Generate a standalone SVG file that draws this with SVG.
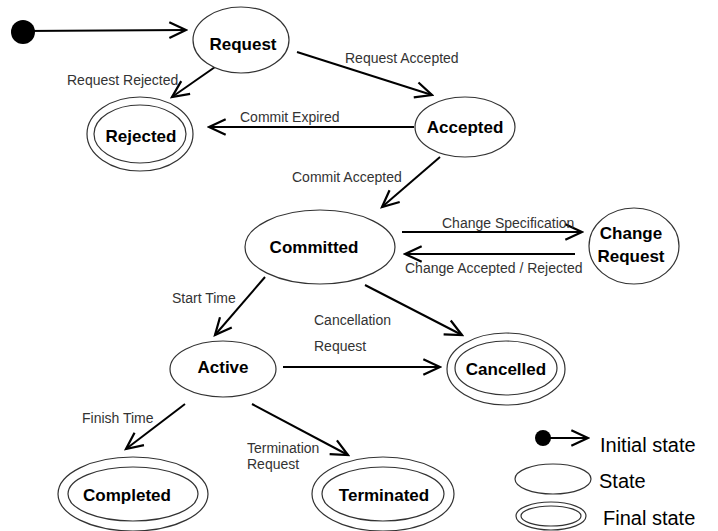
<svg xmlns="http://www.w3.org/2000/svg" width="718" height="531" viewBox="0 0 718 531">
  <style>
    .state { fill: #ffffff; stroke: #333333; stroke-width: 1.2; }
    .name { font-family: "Liberation Sans", Arial, sans-serif; font-size: 17px; font-weight: bold; fill: #000000; text-anchor: middle; }
    .label { font-family: "Liberation Sans", Arial, sans-serif; font-size: 14px; fill: #333333; }
    .legend { font-family: "Liberation Sans", Arial, sans-serif; font-size: 20px; fill: #000000; }
    .edge { stroke: #000000; stroke-width: 2; fill: none; marker-end: url(#open); }
  </style>
  <defs>
    <marker id="open" markerUnits="userSpaceOnUse" markerWidth="20" markerHeight="20" viewBox="-16 -9 18 18" refX="0" refY="0" orient="auto">
      <path d="M-15,-7 L0,0 L-15,7" fill="none" stroke="#000000" stroke-width="2"/>
    </marker>
  </defs>
  <rect width="718" height="531" fill="#ffffff"/>

  <g id="connectors">
    <line class="edge" x1="23" y1="31" x2="186" y2="30"/>
    <line class="edge" x1="215" y1="67" x2="172" y2="97"/>
    <line class="edge" x1="297" y1="52" x2="432" y2="95" stroke-width="2.5"/>
    <line class="edge" x1="414" y1="127" x2="209" y2="127"/>
    <line class="edge" x1="440" y1="157" x2="382" y2="207"/>
    <line class="edge" x1="402" y1="232" x2="582" y2="232"/>
    <line class="edge" x1="575" y1="254" x2="405" y2="254"/>
    <line class="edge" x1="265" y1="277" x2="215" y2="335"/>
    <line class="edge" x1="365" y1="285" x2="462" y2="335"/>
    <line class="edge" x1="283" y1="367" x2="440" y2="367"/>
    <line class="edge" x1="185" y1="404" x2="126" y2="449"/>
    <line class="edge" x1="252" y1="404" x2="348" y2="455"/>

    <text class="label" x="67" y="85">Request Rejected</text>
    <text class="label" x="345" y="63">Request Accepted</text>
    <text class="label" x="240" y="122">Commit Expired</text>
    <text class="label" x="292" y="182">Commit Accepted</text>
    <text class="label" x="442" y="228">Change Specification</text>
    <text class="label" x="405" y="273">Change Accepted / Rejected</text>
    <text class="label" x="172" y="303">Start Time</text>
    <text class="label" x="314" y="325">Cancellation</text>
    <text class="label" x="314" y="351">Request</text>
    <text class="label" x="82" y="423">Finish Time</text>
    <text class="label" x="247" y="453">Termination</text>
    <text class="label" x="247" y="469">Request</text>
  </g>

  <g id="initial">
    <circle cx="23" cy="32" r="12" fill="#000000"/>
  </g>

  <g id="request">
    <ellipse class="state" cx="241" cy="40" rx="48" ry="33"/>
    <text class="name" x="243" y="50">Request</text>
  </g>

  <g id="rejected">
    <ellipse class="state" cx="140" cy="134" rx="53" ry="37"/>
    <ellipse class="state" cx="140" cy="134" rx="46" ry="29"/>
    <text class="name" x="141" y="142">Rejected</text>
  </g>

  <g id="accepted">
    <ellipse class="state" cx="465" cy="127" rx="50" ry="30"/>
    <text class="name" x="465" y="133">Accepted</text>
  </g>

  <g id="committed">
    <ellipse class="state" cx="320" cy="247" rx="75" ry="37"/>
    <text class="name" x="314" y="253">Committed</text>
  </g>

  <g id="change-request">
    <ellipse class="state" cx="634" cy="246" rx="45" ry="38"/>
    <text class="name" x="631" y="239">Change</text>
    <text class="name" x="631" y="262">Request</text>
  </g>

  <g id="active">
    <ellipse class="state" cx="223" cy="369" rx="53" ry="28"/>
    <text class="name" x="223" y="373">Active</text>
  </g>

  <g id="cancelled">
    <ellipse class="state" cx="506" cy="369" rx="59" ry="36"/>
    <ellipse class="state" cx="506" cy="368" rx="51" ry="27"/>
    <text class="name" x="506" y="375">Cancelled</text>
  </g>

  <g id="completed">
    <ellipse class="state" cx="133" cy="494" rx="75" ry="37"/>
    <ellipse class="state" cx="133" cy="494" rx="65" ry="27"/>
    <text class="name" x="127" y="501">Completed</text>
  </g>

  <g id="terminated">
    <ellipse class="state" cx="383" cy="494" rx="71" ry="37"/>
    <ellipse class="state" cx="383" cy="494" rx="61" ry="27"/>
    <text class="name" x="384" y="501">Terminated</text>
  </g>

  <g id="legend">
    <circle cx="543" cy="438" r="8" fill="#000000"/>
    <line x1="543" y1="438" x2="588" y2="438" stroke="#000000" stroke-width="2" marker-end="url(#open)"/>
    <text class="legend" x="600" y="452">Initial state</text>
    <ellipse class="state" cx="553" cy="479" rx="38" ry="15"/>
    <text class="legend" x="599" y="488">State</text>
    <ellipse class="state" cx="551" cy="516" rx="35" ry="14"/>
    <ellipse class="state" cx="551" cy="516" rx="30" ry="10"/>
    <text class="legend" x="603" y="525">Final state</text>
  </g>
</svg>
